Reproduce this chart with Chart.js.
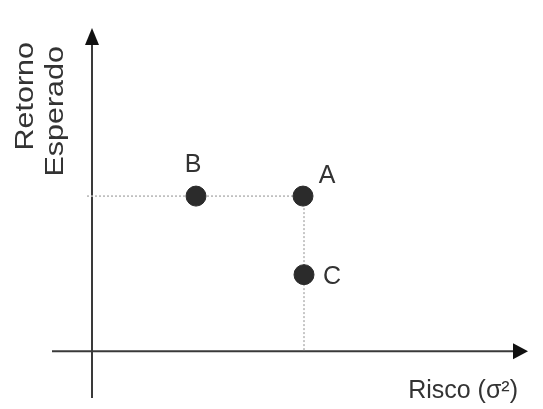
<!DOCTYPE html>
<html>
<head>
<meta charset="utf-8">
<script src="https://cdn.jsdelivr.net/npm/chart.js@4"></script>
<style>
  html, body { margin: 0; padding: 0; background: #fff; }
  #wrap { width: 543px; height: 409px; }
</style>
</head>
<body>
<div id="wrap"><canvas id="chart"></canvas></div>
<script>
// portfolio points
const pointLabels = ["A", "B", "C"];
const riscoValues = [21.1, 10.4, 21.2];
const retornoValues = [15.6, 15.6, 7.7];

// visible extent of the two axes (data units)
const xRange = [-4, 43.6];
const yRange = [-4.7, 32.5];

const xTitle = "Risco (σ²)";
const yTitle = ["Retorno", "Esperado"];

const points = pointLabels.map((_, i) => ({ x: riscoValues[i], y: retornoValues[i] }));
const a = points[0];

// draws the two axes with arrow heads and all text
const axesPlugin = {
  id: "axes",
  beforeDatasetsDraw(chart) {
    const { ctx, scales: { x, y } } = chart;
    const x0 = x.getPixelForValue(0);
    const y0 = y.getPixelForValue(0);
    const xEnd = x.getPixelForValue(xRange[1]);
    const yEnd = y.getPixelForValue(yRange[1]);
    ctx.save();
    ctx.strokeStyle = "#3a3a3a";
    ctx.fillStyle = "#111";
    ctx.lineWidth = 2;
    // x axis
    ctx.beginPath();
    ctx.moveTo(x.getPixelForValue(xRange[0]), y0);
    ctx.lineTo(xEnd - 10, y0);
    ctx.stroke();
    ctx.beginPath();
    ctx.moveTo(xEnd, y0);
    ctx.lineTo(xEnd - 15, y0 - 8);
    ctx.lineTo(xEnd - 15, y0 + 8);
    ctx.closePath();
    ctx.fill();
    // y axis
    ctx.beginPath();
    ctx.moveTo(x0, y.getPixelForValue(yRange[0]));
    ctx.lineTo(x0, yEnd + 10);
    ctx.stroke();
    ctx.beginPath();
    ctx.moveTo(x0, yEnd);
    ctx.lineTo(x0 - 7, yEnd + 17);
    ctx.lineTo(x0 + 7, yEnd + 17);
    ctx.closePath();
    ctx.fill();
    ctx.restore();
  },
  afterDatasetsDraw(chart) {
    const { ctx } = chart;
    const meta = chart.getDatasetMeta(2);
    ctx.save();
    ctx.fillStyle = "#333";
    ctx.font = "25px 'Liberation Sans', Arial, sans-serif";
    ctx.textBaseline = "alphabetic";
    // point labels
    const offsets = [[24, -13], [-3, -24], [28, 9]];
    meta.data.forEach((pt, i) => {
      ctx.textAlign = "center";
      ctx.fillText(pointLabels[i], pt.x + offsets[i][0], pt.y + offsets[i][1]);
    });
    // x title
    ctx.textAlign = "right";
    ctx.fillText(xTitle, 518, 398);
    // y title, glyphs stretched along the text like the reference
    ctx.rotate(-Math.PI / 2);
    ctx.scale(1.22, 1);
    ctx.textAlign = "right";
    ctx.fillText(yTitle[0], -42 / 1.22, 33);
    ctx.fillText(yTitle[1], -46 / 1.22, 63);
    ctx.restore();
  }
};

new Chart(document.getElementById("chart"), {
  type: "scatter",
  data: {
    datasets: [
      {
        type: "line",
        order: 2,
        data: [{ x: -0.5, y: a.y }, { x: a.x, y: a.y }],
        borderColor: "#b5b5b5",
        borderWidth: 1.5,
        borderDash: [2, 2],
        pointRadius: 0
      },
      {
        type: "line",
        order: 2,
        data: [{ x: a.x + 0.1, y: a.y }, { x: a.x + 0.1, y: 0 }],
        borderColor: "#b5b5b5",
        borderWidth: 1.5,
        borderDash: [2, 2],
        pointRadius: 0
      },
      {
        order: 1,
        data: points,
        backgroundColor: "#2b2b2b",
        borderColor: "#2b2b2b",
        pointRadius: 10,
        pointHoverRadius: 10
      }
    ]
  },
  options: {
    responsive: true,
    maintainAspectRatio: false,
    animation: false,
    layout: { padding: { left: 52, right: 15, top: 28, bottom: 9 } },
    plugins: { legend: { display: false }, tooltip: { enabled: false } },
    scales: {
      x: { type: "linear", min: xRange[0], max: xRange[1], display: false },
      y: { type: "linear", min: yRange[0], max: yRange[1], display: false }
    }
  },
  plugins: [axesPlugin]
});
</script>
</body>
</html>
